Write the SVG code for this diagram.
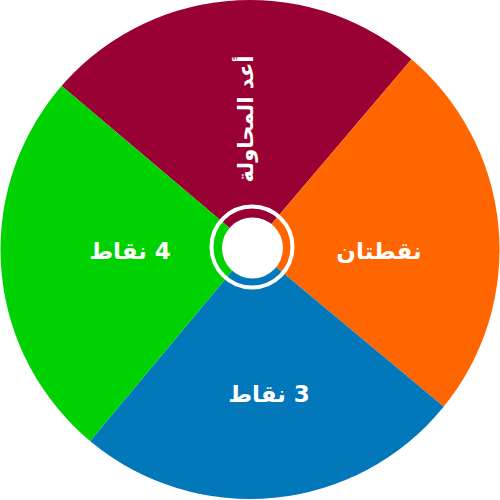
<svg xmlns="http://www.w3.org/2000/svg" width="500" height="500" viewBox="0 0 500 500">
<style>
.lbl{fill:#fff;font-family:"DejaVu Sans","Noto Sans",sans-serif;font-weight:bold;font-size:23px;text-anchor:middle;direction:rtl}
.vert{font-size:21px}
</style>
<defs>
<clipPath id="wheelClip"><circle cx="250" cy="249.5" r="249.5"/></clipPath>
</defs>
<rect width="500" height="500" fill="#fff"/>
<g clip-path="url(#wheelClip)">
<g id="sector-top"><polygon points="252,247 -315,-233 726,-311" fill="#990033"/></g>
<g id="sector-right"><polygon points="252,247 726,-311 825,724" fill="#ff6600"/></g>
<g id="sector-bottom"><polygon points="252,247 825,724 -231,826" fill="#0277ba"/></g>
<g id="sector-left"><polygon points="252,247 -231,826 -315,-233" fill="#00d100"/></g>
</g>
<g id="hub">
<circle cx="252" cy="247" r="40.5" fill="none" stroke="#fff" stroke-width="4"/>
<circle cx="252.5" cy="248" r="30.5" fill="#fff"/>
</g>
<g id="labels">
<text class="lbl vert" transform="translate(253,119) rotate(-90)">أعد المحاولة</text>
<text class="lbl" x="379" y="259">نقطتان</text>
<text class="lbl" x="130" y="259">4 نقاط</text>
<text class="lbl" x="269" y="402">3 نقاط</text>
</g>
</svg>
